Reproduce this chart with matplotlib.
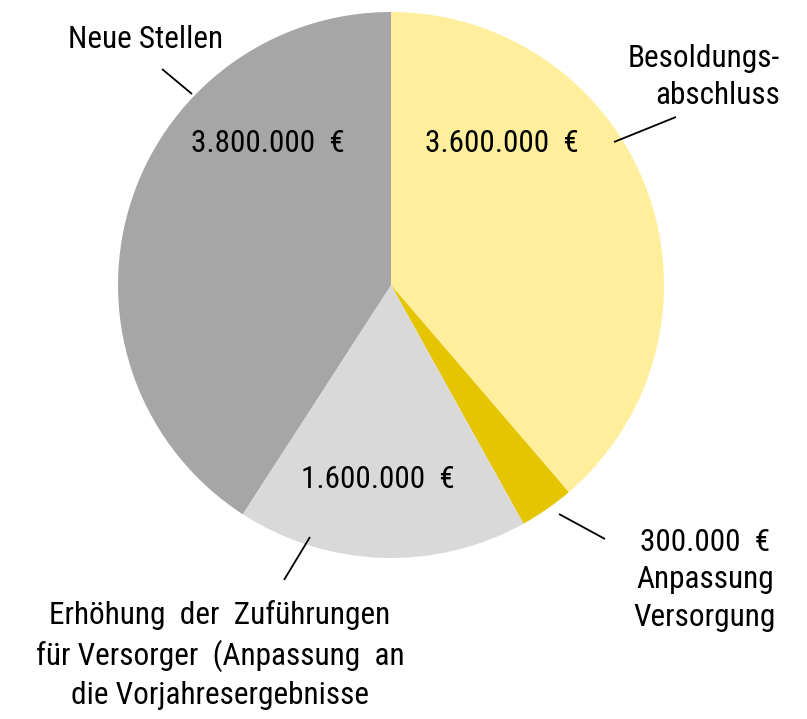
import matplotlib
matplotlib.use("Agg")
import matplotlib.pyplot as plt

categories = ["Besoldungs-\nabschluss", "Anpassung\nVersorgung",
              "Erhöhung  der  Zuführungen\nfür Versorger  (Anpassung  an\ndie Vorjahresergebnisse",
              "Neue Stellen"]
values = [3600000, 300000, 1600000, 3800000]
colors = ["#FFEF9C", "#E5C400", "#D9D9D9", "#A6A6A6"]
value_labels = ["3.600.000  €", "300.000  €", "1.600.000  €", "3.800.000  €"]

W, H = 807, 719
CX, CY, R = 391, 285, 273

def px(x, y):
    return ((x - CX) / R, (CY - y) / R)

fig = plt.figure(figsize=(W / 100, H / 100), dpi=100)
ax = fig.add_axes([0, 0, 1, 1])
ax.pie(values, colors=colors, startangle=90, counterclock=False, radius=1,
       wedgeprops=dict(linewidth=0))
x0, _ = px(0, 0); x1, _ = px(W, 0)
_, y0 = px(0, H); _, y1 = px(0, 0)
ax.set_xlim(x0, x1)
ax.set_ylim(y0, y1)
ax.set_aspect("auto")
ax.axis("off")

fam = ["Roboto Condensed", "Liberation Sans", "DejaVu Sans"]
fs = 22.5

def txt(x, y, s, ha="center", ls=1.39):
    ax.text(*px(x, y), s, ha=ha, va="center", fontsize=fs, family=fam,
            linespacing=ls, multialignment=ha)

def line(a, b):
    (xa, ya), (xb, yb) = px(*a), px(*b)
    ax.plot([xa, xb], [ya, yb], color="black", lw=1.3, solid_capstyle="butt")

# inner value labels
txt(502, 143, value_labels[0])
txt(268, 143, value_labels[3])
txt(378, 480, value_labels[2])

# outer labels
txt(146, 40, categories[3])
line((162, 69), (192, 94))
txt(780, 77, categories[0], ha="right")
line((614, 142), (676, 117))
txt(705, 580, value_labels[1] + "\n" + categories[1])
line((559, 514), (605, 539))
txt(220, 655, categories[2])
line((310, 537), (284, 580))

fig.savefig("out.png", dpi=100)
